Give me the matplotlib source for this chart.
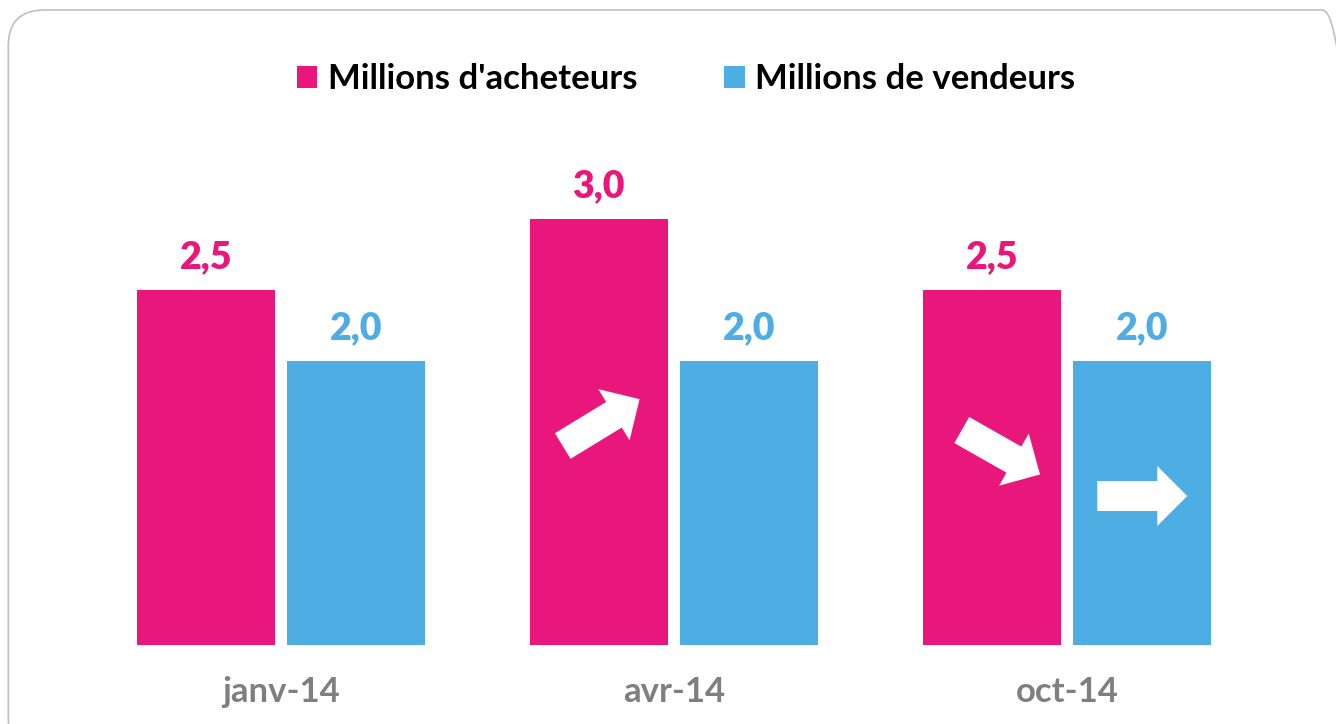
import numpy as np
import matplotlib
matplotlib.use("Agg")
import matplotlib.pyplot as plt
from matplotlib.patches import FancyBboxPatch, Polygon, Patch
from matplotlib.transforms import ScaledTranslation

plt.rcParams['font.family'] = ['Lato', 'DejaVu Sans']

# data
periods = ['janv-14', 'avr-14', 'oct-14']
acheteurs = [2.5, 3.0, 2.5]
vendeurs = [2.0, 2.0, 2.0]
labels_series = ["Millions d'acheteurs", "Millions de vendeurs"]

pink = '#E9177B'
blue = '#4EADE3'
gray = '#7F7F7F'

fig = plt.figure(figsize=(13.36, 7.24), dpi=100)

# rounded frame (inches)
frame = FancyBboxPatch((0.083, -0.3), 13.5, 7.44,
                       boxstyle="round,pad=0,rounding_size=0.36",
                       transform=fig.dpi_scale_trans, facecolor='none',
                       edgecolor='#BFBFBF', linewidth=1.2, zorder=-1)
fig.patches.append(frame)

ax = fig.add_axes([0, 79 / 724, 1, 645 / 724])
ax.set_facecolor('none')

x = np.arange(len(periods))
w = 0.351
off = 0.1915
b1 = ax.bar(x - off, acheteurs, w, color=pink, label=labels_series[0])
b2 = ax.bar(x + off, vendeurs, w, color=blue, label=labels_series[1])

ax.set_xlim(-281 / 393, (1336 - 281) / 393)
ax.set_ylim(0, 645 / 142)

for bars, vals, c in [(b1, acheteurs, pink), (b2, vendeurs, blue)]:
    for r, v in zip(bars, vals):
        ax.annotate(f"{v:.1f}".replace('.', ','),
                    (r.get_x() + r.get_width() / 2, v),
                    xytext=(0, 16), textcoords='offset points',
                    ha='center', va='baseline', fontsize=27,
                    fontweight='heavy', color=c)

ax.set_xticks(x)
ax.set_xticklabels(periods, fontsize=25, fontweight='bold', color=gray)
ax.tick_params(axis='x', length=0, pad=22)
ax.set_yticks([])
for s in ax.spines.values():
    s.set_visible(False)

# white trend arrows inside bars (tail offset px from bar centre/base, angle deg)
def block_arrow(bar, dx, dy, ang, length=90, shaft=30, head=60, hl=30):
    a = np.radians(ang)
    u = np.array([np.cos(a), np.sin(a)])
    n = np.array([-u[1], u[0]])
    t = np.array([dx, dy], dtype=float)
    hb = t + u * (length - hl)
    pts = [t + n * shaft / 2, hb + n * shaft / 2, hb + n * head / 2,
           t + u * length, hb - n * head / 2, hb - n * shaft / 2, t - n * shaft / 2]
    pts = np.array(pts) / 100.0
    tr = fig.dpi_scale_trans + ScaledTranslation(bar.get_x() + bar.get_width() / 2, 0, ax.transData)
    ax.add_patch(Polygon(pts, closed=True, facecolor='white', edgecolor='none', transform=tr))

block_arrow(b1[1], -36, 199, 31.4)
block_arrow(b1[2], -30, 215, -29.6)
block_arrow(b2[2], -45, 149, 0)

handles = [Patch(facecolor=pink), Patch(facecolor=blue)]
fig.legend(handles, labels_series, loc='center', bbox_to_anchor=(686 / 1336, 1 - 79 / 724),
           ncol=2, frameon=False, prop={'size': 25, 'weight': 'bold'},
           handlelength=0.6, handleheight=0.6, handletextpad=0.3, columnspacing=2.5)

fig.savefig('out.png', dpi=100)
